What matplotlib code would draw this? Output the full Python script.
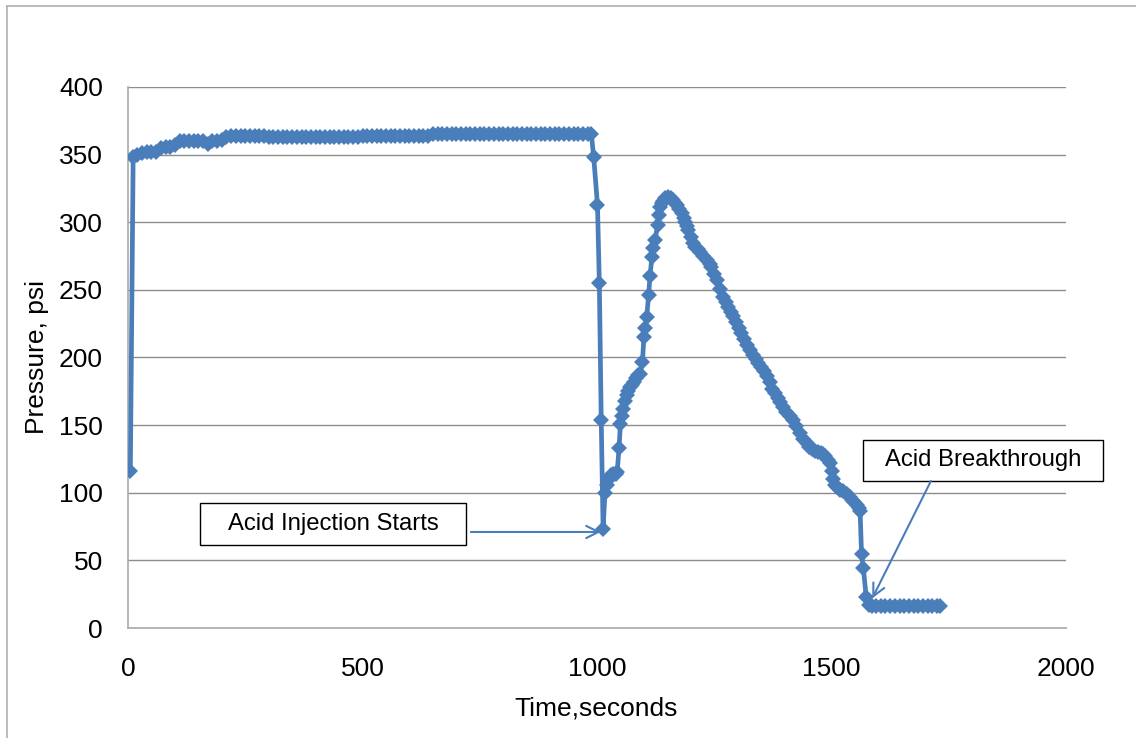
import matplotlib.pyplot as plt
from matplotlib.lines import Line2D
from matplotlib.patches import Rectangle

plt.rcParams['font.family'] = ['Liberation Sans', 'DejaVu Sans']

# time (s) and pressure (psi)
time_s = [5, 11, 20, 30, 40, 50, 60, 70, 80, 90,
          100, 110, 120, 130, 140, 150, 160, 170, 180, 190,
          200, 210, 220, 230, 240, 250, 260, 270, 280, 290,
          300, 310, 320, 330, 340, 350, 360, 370, 380, 390,
          400, 410, 420, 430, 440, 450, 460, 470, 480, 490,
          500, 510, 520, 530, 540, 550, 560, 570, 580, 590,
          600, 610, 620, 630, 640, 650, 660, 670, 680, 690,
          700, 710, 720, 730, 740, 750, 760, 770, 780, 790,
          800, 810, 820, 830, 840, 850, 860, 870, 880, 890,
          900, 910, 920, 930, 940, 950, 960, 970, 980, 988,
          993, 1001, 1005, 1009, 1013, 1017, 1021, 1026, 1030, 1035,
          1040, 1043, 1047, 1050, 1053, 1056, 1060, 1064, 1067, 1071,
          1074, 1078, 1083, 1088, 1092, 1097, 1100, 1103, 1106, 1110,
          1113, 1117, 1120, 1124, 1129, 1132, 1135, 1138, 1141, 1146,
          1152, 1158, 1163, 1167, 1170, 1175, 1181, 1185, 1188, 1192,
          1195, 1200, 1205, 1210, 1215, 1220, 1227, 1234, 1240, 1244,
          1250, 1255, 1262, 1269, 1275, 1280, 1286, 1291, 1297, 1302,
          1308, 1314, 1320, 1326, 1332, 1338, 1344, 1350, 1356, 1362,
          1368, 1374, 1379, 1385, 1391, 1397, 1404, 1411, 1418, 1425,
          1433, 1440, 1447, 1453, 1459, 1465, 1471, 1477, 1482, 1487,
          1492, 1497, 1501, 1504, 1508, 1511, 1518, 1525, 1532, 1539,
          1544, 1549, 1554, 1558, 1561, 1564, 1568, 1574, 1580, 1586,
          1595, 1605, 1615, 1625, 1635, 1645, 1655, 1665, 1675, 1685,
          1695, 1705, 1715, 1725, 1731]

pressure_psi = [116, 348, 350, 351, 352, 352, 352, 355, 356, 356,
                357, 360, 360, 360, 360, 360, 360, 358, 360, 360,
                361, 363, 364, 364, 364, 364, 364, 364, 364, 364,
                363, 363, 363, 363, 363, 363, 363, 363, 363, 363,
                363, 363, 363, 363, 363, 363, 363, 363, 363, 363,
                364, 364, 364, 364, 364, 364, 364, 364, 364, 364,
                364, 364, 364, 364, 364, 365, 365, 365, 365, 365,
                365, 365, 365, 365, 365, 365, 365, 365, 365, 365,
                365, 365, 365, 365, 365, 365, 365, 365, 365, 365,
                365, 365, 365, 365, 365, 365, 365, 365, 365, 365,
                348, 313, 255, 154, 73, 100, 106, 110, 113, 114,
                114, 115, 133, 151, 157, 162, 168, 172, 175, 178,
                180, 182, 185, 187, 188, 197, 215, 222, 230, 246,
                260, 274, 281, 287, 298, 305, 311, 314, 316, 318,
                318.5, 318, 316.4, 314.5, 312.8, 310, 306.6, 303, 300.4, 297,
                294.3, 289, 284.5, 282, 280, 278, 275, 272, 269, 267,
                262, 257.5, 251, 245, 241, 237, 234, 231, 226, 222,
                218, 214, 209, 205.5, 202, 199, 196, 193, 190, 186,
                182, 177, 173.5, 170, 167, 163.6, 160, 157, 153.8, 149,
                144, 140, 136.5, 134, 132, 131, 130, 129.5, 129, 127,
                124, 122, 116, 110, 106, 104, 102, 101, 99, 97,
                95, 93, 91, 89, 86.5, 55, 44, 23, 17, 16,
                16, 16, 16, 16, 16, 16, 16, 16, 16, 16,
                16, 16, 16, 16, 16]

x_ticks = [0, 500, 1000, 1500, 2000]
y_ticks = [0, 50, 100, 150, 200, 250, 300, 350, 400]

line_color = '#4A7EBB'

fig = plt.figure(figsize=(11.36, 7.38), dpi=100)
ax = fig.add_axes([128 / 1136, 1 - 628 / 738, 938 / 1136, 541 / 738])

ax.plot(time_s, pressure_psi, color=line_color, linewidth=3.4,
        marker='D', markersize=8, markeredgewidth=0, zorder=3)

ax.set_xlim(0, 2000)
ax.set_ylim(0, 400)
ax.set_xticks(x_ticks)
ax.set_yticks(y_ticks)
ax.tick_params(axis='both', length=0, labelsize=19)
ax.tick_params(axis='x', pad=21)
ax.tick_params(axis='y', pad=18)
ax.yaxis.grid(True, color='#8c8c8c', linewidth=1)
ax.set_axisbelow(True)
for side in ['top', 'right']:
    ax.spines[side].set_visible(False)
for side in ['left', 'bottom']:
    ax.spines[side].set_color('#b0b0b0')
    ax.spines[side].set_linewidth(1.3)

ax.set_xlabel('Time,seconds', fontsize=19)
ax.set_ylabel('Pressure, psi', fontsize=19)
ax.xaxis.set_label_coords(0.499, -0.1275)
ax.yaxis.set_label_coords(-0.0845, 0.5)

# callout boxes with arrows
callouts = [
    ('Acid Injection Starts', (153, 61.4, 568, 31), (731, 71), (1008, 71)),
    ('Acid Breakthrough', (1567, 108.7, 512, 30.3), (1712, 108.7), (1587, 22)),
]
for label, (bx, by, bw, bh), start, end in callouts:
    ax.add_patch(Rectangle((bx, by), bw, bh, facecolor='white', edgecolor='black',
                           linewidth=1, clip_on=False, zorder=4))
    ax.text(bx + bw / 2, by + bh / 2, label, fontsize=17.2, ha='center',
            va='center', zorder=5, clip_on=False)
    ax.annotate('', xy=end, xytext=start, zorder=5,
                arrowprops=dict(arrowstyle='->', color=line_color, linewidth=1.5,
                                mutation_scale=22, shrinkA=0, shrinkB=0))

# outer chart border (only left and top visible in the frame)
fig.add_artist(Line2D([7 / 1136, 7 / 1136], [0, 1 - 6 / 738], color='#b0b0b0', linewidth=1.2))
fig.add_artist(Line2D([7 / 1136, 1], [1 - 6 / 738, 1 - 6 / 738], color='#b0b0b0', linewidth=1.2))

fig.savefig('out.png', dpi=100)
